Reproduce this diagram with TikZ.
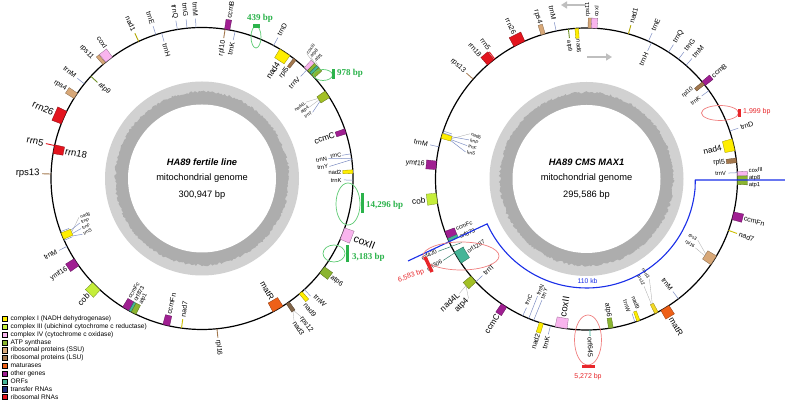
\documentclass[tikz,border=0pt]{standalone}
\usepackage{fontspec}
\setmainfont{Liberation Sans}
\newfontfamily\gserif{Liberation Serif}
\usetikzlibrary{arrows.meta}
\definecolor{cI}{HTML}{FFEE00}
\definecolor{cIII}{HTML}{C5EE3A}
\definecolor{cIV}{HTML}{F9B4EE}
\definecolor{cATP}{HTML}{8BB530}
\definecolor{cSSU}{HTML}{D8A878}
\definecolor{cLSU}{HTML}{A3784E}
\definecolor{cMAT}{HTML}{EE6018}
\definecolor{cOTH}{HTML}{A01F92}
\definecolor{cORF}{HTML}{45B597}
\definecolor{cTRN}{HTML}{1B2A7A}
\definecolor{cRRN}{HTML}{E3141E}
\definecolor{tlc}{HTML}{7F8FC4}
\definecolor{ggreen}{HTML}{2BB34B}
\definecolor{gell}{HTML}{5DCB73}
\definecolor{rred}{HTML}{E8262A}
\definecolor{rell}{HTML}{F08080}
\definecolor{blu}{HTML}{1A2FE8}
\tikzset{
  glbl/.style={inner sep=0.3pt, font=\fontsize{7}{7}\selectfont},
  big/.style={font=\fontsize{9.5}{9.5}\selectfont},
  huge/.style={font=\fontsize{10.5}{10.5}\selectfont},
  med/.style={font=\fontsize{8.3}{8.3}\selectfont},
  sml/.style={font=\fontsize{5.8}{5.8}\selectfont},
  tny/.style={font=\fontsize{4.6}{4.6}\selectfont},
  lead/.style={draw=gray!70, line width=0.3pt},
  tline/.style={draw=tlc, line width=0.5pt},
  gtxt/.style={text=ggreen, font=\gserif\bfseries\fontsize{9}{9}\selectfont, inner sep=0pt},
  rtxt/.style={text=rred, font=\fontsize{7}{7}\selectfont, inner sep=0pt},
  ctxt/.style={font=\fontsize{9.3}{9.3}\selectfont, inner sep=0pt},
  ell/.style={line width=0.7pt},
  legt/.style={font=\fontsize{6.6}{6.6}\selectfont, anchor=west, inner sep=0pt},
}
\newcounter{glab}
\newcommand\GBo[3]{\filldraw[fill=#3,draw=#3!60!black,line width=0.3pt] ({#1-#2}:151) -- ({#1+#2}:151) -- ({#1+#2}:161) -- ({#1-#2}:161) -- cycle;}
\newcommand\GBi[3]{\filldraw[fill=#3,draw=#3!60!black,line width=0.3pt] ({#1-#2}:151) -- ({#1+#2}:151) -- ({#1+#2}:141) -- ({#1-#2}:141) -- cycle;}
\newcommand\GTo[2]{\draw[#2,line width=0.9pt] (#1:151) -- (#1:160);}
\newcommand\GTi[2]{\draw[#2,line width=0.9pt] (#1:151) -- (#1:142);}
\newcommand\GTr[1]{\draw[tline] (#1:151) -- (#1:160);}
\newcommand\GTri[1]{\draw[tline] (#1:151) -- (#1:142);}
\newcommand\GLo[4][]{\stepcounter{glab}\edef\gname{gl\arabic{glab}}\pgfmathtruncatemacro\gside{cos(#2)>=0}%
  \ifnum\gside=1 \node[glbl,rotate=#2,anchor=west,#1] (\gname) at (#2:#3) {#4};%
  \else \node[glbl,rotate=#2+180,anchor=east,#1] (\gname) at (#2:#3) {#4};\fi}
\newcommand\GLi[4][]{\stepcounter{glab}\edef\gname{gl\arabic{glab}}\pgfmathtruncatemacro\gside{cos(#2)>=0}%
  \ifnum\gside=1 \node[glbl,rotate=#2,anchor=east,#1] (\gname) at (#2:#3) {#4};%
  \else \node[glbl,rotate=#2+180,anchor=west,#1] (\gname) at (#2:#3) {#4};\fi}
\newcommand\GRing{%
  \fill[gray!36] (0,0) circle (97);
  \fill[gray!64] plot[domain=0:360,samples=361,variable=\t] (\t:{85.5+2.5*rnd}) -- cycle;
  \fill[white] (0,0) circle (74);
  \draw[line width=1.2pt] (0,0) circle (151);}
\begin{document}
\begin{tikzpicture}[x=1pt,y=1pt]
\pgfmathsetseed{7}
\useasboundingbox (0,0) rectangle (785,403);
\fill[white] (0,0) rectangle (785,403);

% ---------------- left genome ----------------
\begin{scope}[shift={(202,224.5)}]
\GRing
% outer strand
\GTo{178.3}{cLSU} \GLo[big]{178.3}{162}{rps13}
\GTo{167.4}{cRRN} \GLo[big]{167.4}{162}{rrn5}
\GBo{156.2}{2.6}{cRRN} \GLo[big]{156.2}{162}{rrn26}
\GBo{146.8}{1.2}{cSSU} \GLo{146.8}{162}{rps4}
\GTr{141.2} \GLo{141.2}{162}{trnM}
\GBo{130.4}{0.6}{cSSU} \GLo{132.4}{162}{rps11}
\GBo{128.0}{1.6}{cIV} \GLo{126.3}{162}{coxI}
\GTo{114.8}{cI!70!black} \GLo{114.8}{162}{nad1}
\GTr{107.8} \GLo{107.8}{162}{trnE}
\GTr{99.4} \GLo{99.4}{162}{trnQ}
\GTr{95.7} \GLo{95.7}{162}{trnG}
\GTr{92.3} \GLo{92.3}{162}{trnM}
\GBo{80.4}{1.0}{cOTH} \GLo{80.4}{162}{ccmB}
\GTr{61.7} \GLo{61.7}{162}{trnD}
\GBo{46.5}{0.8}{cIV} \GBo{45.1}{0.6}{cATP} \GBo{44.0}{0.5}{cORF} \GBo{42.7}{0.8}{cATP}
\draw[lead] (46.5:161) -- (50:163); \draw[lead] (45.1:161) -- (48:163); \draw[lead] (42.7:161) -- (46:163);
\GLo[tny]{50}{163}{coxIII} \GLo[tny]{48}{163}{atp8} \GLo[tny]{46}{163}{atp1}
\GBo{-21.4}{2.3}{cIV} \GLo[huge]{-21.4}{163}{coxII}
\GBo{-37.3}{1.5}{cATP} \GLo{-37.3}{162}{atp6}
\GTr{-47.3} \GLo{-46.0}{162}{trnW}
\GBo{-49.2}{0.7}{cI} \GLo{-50.6}{162}{nad9}
\GBo{-55.4}{0.7}{cSSU!60!black}
\draw[lead] (-55.2:161) -- (-54.4:170); \draw[lead] (-55.6:161) -- (-57.2:170);
\GLo{-54.4}{170}{rps12} \GLo{-57.2}{170}{nad3}
\GTo{-84.3}{cLSU} \GLo{-84.3}{162}{rpl16}
\GBo{225.6}{2.0}{cIII} \GLo[med]{225.6}{162}{cob}
\GBo{213.7}{1.6}{cOTH} \GLo{213.7}{162}{ymf16}
\GTr{206.7} \GLo{206.7}{162}{trnM}
% inner strand
\GBi{168.8}{1.7}{cRRN} \GLi[big]{168.8}{140}{rrn18}
\GTi{137.4}{cATP!80!black} \GLi{137.4}{140}{atp9}
\GTri{105.5} \GLi{105.5}{140}{trnH}
\GTi{81.2}{cLSU} \GLi{81.2}{140}{rpl10}
\GTri{77.3} \GLi{77.3}{140}{trnK}
\GBi{56.7}{2.3}{cI} \GLi[med]{56.7}{139}{nad4}
\GBi{52.1}{0.6}{cLSU} \GLi{52.1}{140}{rpl5}
\GTri{46} \GLi{46}{140}{trnV}
\GBi{33.9}{1.5}{cATP!80!cI}
\draw[lead] (34.6:141) -- (36.3:129); \draw[lead] (33.9:141) -- (33.6:129); \draw[tline] (33.2:141) -- (30.9:129);
\GLi[tny]{36.3}{128.5}{nad4L} \GLi[tny]{33.6}{128.5}{atp4} \GLi[tny]{30.9}{128.5}{trnT}
\GBi{18.2}{1.0}{cOTH} \GLi[med]{18.2}{140}{ccmC}
\GTri{9.4} \GLi[sml]{9.8}{142}{trnC}
\draw[tline] (7.6:151) -- (9.0:128); \GLi[sml]{9.0}{127}{trnN}
\draw[tline] (7.2:151) -- (5.4:128); \GLi[sml]{5.4}{127}{trnY}
\GBi{2.6}{0.7}{cI} \GLi[sml]{2.6}{140}{nad2}
\GTri{-0.6} \GLi[sml]{-0.9}{140}{trnK}
\GBi{-59.8}{2.2}{cMAT} \GLi[med]{-59.8}{140}{matR}
\GTi{262.2}{cI!80!black} \GLi{262.2}{140}{nad7}
\GBi{256.3}{1.3}{cOTH} \GLi{256.3}{140}{ccmFn}
\GBi{239.8}{1.5}{cOTH} \GBi{241.6}{0.5}{cORF} \GBi{243.1}{1.0}{cATP}
\GLi[sml]{238.6}{140}{ccmFc} \GLi[sml]{241.3}{140}{orf873} \GLi[sml]{244.0}{140}{atp1}
\GBi{202.4}{1.3}{cI} \GTri{200.6} \GTri{204.2}
\draw[lead] (202.4:141) -- (197.5:129); \draw[tline] (201.5:141) -- (200:130);
\draw[tline] (203:141) -- (202.5:131); \draw[tline] (204:141) -- (205:132);
\GLi[tny]{197.5}{128}{nad6} \GLi[tny]{200}{129}{trnP} \GLi[tny]{202.5}{130}{trnF} \GLi[tny]{205}{131}{trnS}
\end{scope}
\node[ctxt] (t1) at (202,241) {\textbf{\textit{HA89 fertile line}}};
\node[ctxt] (t2) at (202,224.5) {mitochondrial genome};
\node[ctxt] (t3) at (202,208) {300,947 bp};

% ---------------- right genome ----------------
\begin{scope}[shift={(586.5,224)}]
\GRing
% outer strand
\GTo{138.6}{cSSU!80!black} \GLo{138.6}{162}{rps13}
\GTo{127.4}{cRRN} \GLo{126.8}{162}{rrn5}
\GBo{129.4}{1.6}{cRRN} \GLo{130.8}{162}{rrn18}
\GBo{116.4}{2.3}{cRRN} \GLo{116.4}{162}{rrn26}
\GBo{106.7}{0.8}{cSSU} \GLo{106.7}{162}{rps4}
\GTr{101.6} \GLo{101.6}{162}{trnM}
\GBo{88.8}{0.6}{cSSU} \GLo[sml]{89.6}{162}{rps11}
\GBo{87.1}{1.1}{cIV} \GLo[sml]{86.6}{162}{coxI}
\GTo{73.9}{cI!70!black} \GLo{73.9}{162}{nad1}
\GTr{65.8} \GLo{65.8}{162}{trnE}
\GTr{57.1} \GLo{57.1}{162}{trnQ}
\GTr{52.5} \GLo{52.5}{162}{trnG}
\GTr{48.8} \GLo{48.8}{162}{trnM}
\GBo{39.2}{1.0}{cOTH} \GLo{39.2}{162}{ccmB}
\GTr{18.5} \GLo{18.5}{162}{trnD}
\GBo{2.0}{0.8}{cIV} \GLo[sml]{3.0}{162}{coxIII}
\GBo{0.5}{0.6}{cATP} \GLo[sml]{0.4}{162}{atp8}
\GBo{-1.2}{0.9}{cATP} \GLo[sml]{-2.2}{162}{atp1}
\GBo{-14.1}{1.5}{cOTH} \GLo{-14.1}{162}{ccmFn}
\GTo{-19.9}{cI!80!black} \GLo{-19.9}{162}{nad7}
\GBo{-58.7}{1.8}{cMAT} \GLo[med]{-58.7}{162}{matR}
\draw[cORF,line width=0.9pt] (-88.7:151) -- (-88.7:157); \GLo{-88.7}{158}{orf645}
\GTr{256.2} \GLo{256.2}{162}{trnK}
\GBo{252.6}{0.8}{cI} \GLo{252.6}{162}{nad2}
\GBo{236.9}{1.2}{cOTH} \GLo[med]{236.9}{162}{ccmC}
\GBo{221.5}{1.5}{cATP!80!cI}
\draw[lead] (221.5:161) -- (222:171); \draw[lead] (221.5:161) -- (225.4:168);
\GLo[med]{222}{172}{nad4L} \GLo[med]{225.4}{169}{atp4}
\draw[cORF!70!black,line width=0.5pt] (207:140) -- (206:165); \draw[cORF!70!black,line width=0.5pt] (209:140) -- (209.6:165);
\GLo[sml]{205.7}{166}{orf420} \GLo[sml]{209.6}{166}{orf306}
\GBo{187.4}{2.0}{cIII} \GLo[med]{187.4}{162}{cob}
\GBo{174.8}{1.6}{cOTH} \GLo{174.8}{162}{ymf16}
\GTr{167.7} \GLo{167.7}{162}{trnM}
% inner strand
\GTi{96.9}{cATP!80!black} \GLi[sml]{97.4}{140}{atp9}
\GBi{93.7}{0.7}{cI} \GLi[sml]{93.3}{140}{nad6}
\GTri{64.5} \GLi{64.5}{140}{trnH}
\GBi{39.3}{0.7}{cLSU} \GLi[sml]{40.6}{140}{rpl10}
\GTri{35.8} \GLi[sml]{35.6}{140}{trnK}
\GBi{13.1}{2.3}{cI} \GLi[med]{13.1}{139}{nad4}
\GBi{7.1}{0.9}{cLSU} \GLi{7.1}{140}{rpl5}
\GTri{2.4} \GLi[sml]{2.4}{140}{trnV}
\GBi{-32.6}{2.0}{cSSU}
\draw[lead] (-32.2:141) -- (-28.8:127); \draw[lead] (-33:141) -- (-32.3:129);
\GLi[tny]{-28.8}{126}{rps3} \GLi[tny]{-32.3}{128}{rpl16}
\GTri{-52.5} \GLi{-52.5}{140}{trnM}
\GBi{-62.4}{0.7}{cI!70!cSSU}
\draw[lead] (-62.2:141) -- (-57.8:118); \draw[lead] (-62.6:141) -- (-61.8:122);
\GLi[tny]{-57.8}{117}{nad3} \GLi[tny]{-61.8}{121}{rps12}
\GBi{-69.9}{0.6}{cI} \GLi[sml]{-68.3}{140}{nad9}
\GTri{-71.3} \GLi[sml]{-72.4}{140}{trnW}
\GBi{-80.7}{0.9}{cATP} \GLi{-80.7}{140}{atp6}
\GBi{260.3}{2.3}{cIV} \GLi[big]{260.3}{140}{coxII}
\GTri{245} \GLi[sml]{244.4}{140}{trnC}
\draw[tline] (247.5:151) -- (247.3:127); \GLi[sml]{247.3}{126}{trnN}
\draw[tline] (249.5:151) -- (249.8:129); \GLi[sml]{249.8}{128}{trnY}
\GTri{222.9} \GLi{222.9}{140}{trnT}
\GBi{211.4}{2.5}{cORF} \GLi[sml]{211.4}{140}{orf1287}
\GBi{201.9}{1.6}{cOTH} \GLi[sml]{200.8}{140}{ccmFc}
\GBi{203.8}{0.6}{cORF} \GLi[sml]{204.6}{140}{orf873}
\GBi{163.4}{1.0}{cI} \GTri{162.2} \GTri{161.5}
\draw[lead] (163.4:141) -- (158.8:125); \draw[tline] (162.6:141) -- (161.6:124);
\draw[tline] (163.8:141) -- (164.4:124); \draw[tline] (164.2:141) -- (167.4:124);
\GLi[tny]{158.8}{124}{nad6} \GLi[tny]{161.6}{123}{trnP} \GLi[tny]{164.4}{123}{trnF} \GLi[tny]{167.4}{123}{trnS}
\end{scope}
\node[ctxt] (t4) at (586.5,241) {\textbf{\textit{HA89 CMS MAX1}}};
\node[ctxt] (t5) at (586.5,224.5) {mitochondrial genome};
\node[ctxt] (t6) at (586.5,208) {295,586 bp};

% strand arrows
\draw[gray!50,line width=2pt,-{Triangle[length=6pt,width=7pt]}] (586,398) -- (561,398);
\draw[gray!50,line width=2pt,-{Triangle[length=6pt,width=7pt]}] (587,346) -- (612,346);

% blue 110 kb region
\draw[blu,line width=1.1pt] (785,223) -- (695.3,223) -- ([shift={(586.5,224)}]-5:109) arc[start angle=-5,end angle=-155.7,radius=109] -- (408,142);
\node[text=blu,font=\fontsize{6.8}{6.8}\selectfont,inner sep=0pt] (kb) at (587.5,121.5) {110 kb};

% red annotations
\draw[rell,ell] (720,290) ellipse[x radius=18.5,y radius=7.5];
\fill[rred] (737.5,286) rectangle (740.5,294);
\node[rtxt,anchor=west] (r1) at (743,291.5) {1,999 bp};
\draw[rell,ell] (461,147) ellipse[x radius=38,y radius=14];
\draw[rred,line width=3.5pt] (425,146) -- (432,131);
\node[rtxt,anchor=east,rotate=20] (r2) at (424,132) {6,583 bp};
\draw[rell,ell] (588,63) ellipse[x radius=13.5,y radius=25];
\fill[rred] (582,34.5) rectangle (595,37.5);
\node[rtxt] (r3) at (588,26) {5,272 bp};

% green annotations
\draw[gell,ell] (256,366) ellipse[x radius=5,y radius=11];
\fill[ggreen] (252.5,375) rectangle (259.5,378.5);
\node[gtxt] (g1) at (260,385) {439 bp};
\draw[gell,ell] (323,328) ellipse[x radius=9.5,y radius=5.5];
\fill[ggreen] (332,323.5) rectangle (334.8,334);
\node[gtxt,anchor=west] (g2) at (337,330) {978 bp};
\draw[gell,ell] (348,199) ellipse[x radius=12,y radius=21];
\fill[ggreen] (360.5,190) rectangle (363.5,210);
\node[gtxt,anchor=west] (g3) at (366,198) {14,296 bp};
\draw[gell,ell] (334,149.5) ellipse[x radius=11,y radius=8.5];
\fill[ggreen] (345.8,140.5) rectangle (348.6,157.5);
\node[gtxt,anchor=west] (g4) at (352,146) {3,183 bp};

% legend
\foreach \c/\t [count=\i] in {cI/complex I (NADH dehydrogenase),cIII/complex III (ubichinol cytochrome c reductase),cIV/complex IV (cytochrome c oxidase),cATP/ATP synthase,cSSU/ribosomal proteins (SSU),cLSU/ribosomal proteins (LSU),cMAT/maturases,cOTH/other genes,cORF/ORFs,cTRN/transfer RNAs,cRRN/ribosomal RNAs}{
  \pgfmathsetmacro\yy{84-(\i-1)*7.8}
  \draw[fill=\c,line width=0.4pt] (2,\yy-2.6) rectangle (7.2,\yy+2.6);
  \node[legt] (lg\i) at (10.5,\yy) {\t};
}
\end{tikzpicture}
\end{document}
